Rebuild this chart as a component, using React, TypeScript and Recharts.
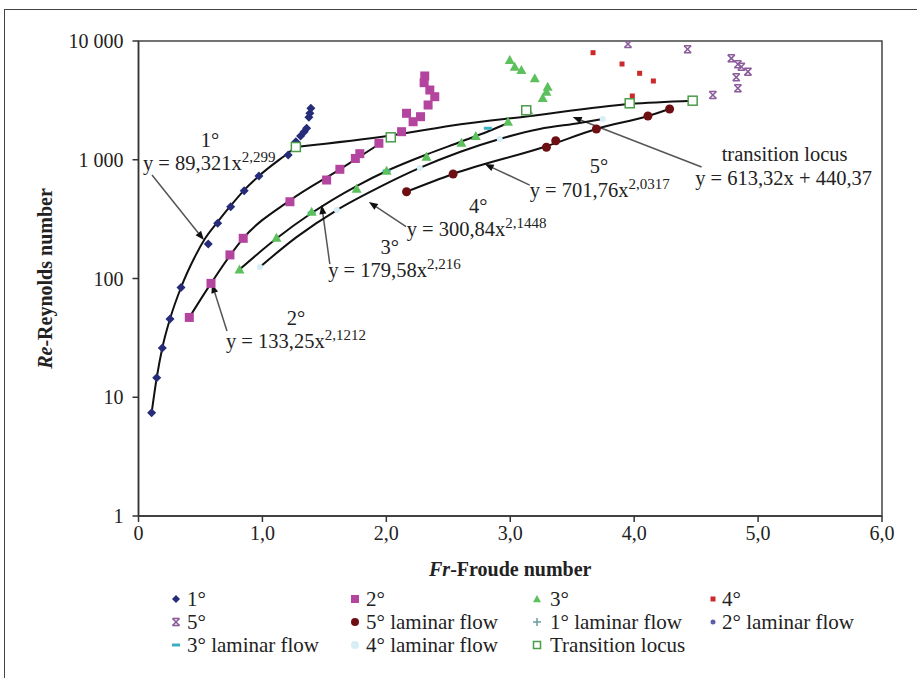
import React from 'react';
import {
  ScatterChart,
  Scatter,
  XAxis,
  YAxis,
  ReferenceLine,
  ReferenceDot,
  ReferenceArea,
} from 'recharts';

const FONT = '"Liberation Serif", "DejaVu Serif", serif';

// ---------- data (Fr, Re) ----------
const deg1: [number, number][] = [
  [0.106, 7.4], [0.147, 14.6], [0.192, 26], [0.254, 45.6], [0.343, 84],
  [0.563, 195], [0.639, 292], [0.744, 402], [0.853, 549], [0.972, 730],
  [1.208, 1096], [1.27, 1419], [1.308, 1585], [1.337, 1722], [1.357, 1840],
  [1.375, 2277], [1.383, 2461], [1.391, 2711],
];
const deg2: [number, number][] = [
  [0.41, 47], [0.585, 91], [0.738, 158], [0.845, 218], [1.222, 443],
  [1.518, 675], [1.625, 831], [1.75, 1025], [1.786, 1125], [1.94, 1376],
  [2.123, 1723], [2.163, 2462], [2.216, 2091], [2.276, 2305], [2.337, 2891],
  [2.391, 3396], [2.351, 3866], [2.305, 4457], [2.31, 5075],
];
const deg3: [number, number][] = [
  [0.815, 119], [1.113, 220], [1.397, 365], [1.76, 570], [2.002, 809],
  [2.324, 1061], [2.606, 1392], [2.722, 1585], [2.982, 2091], [3.144, 2625],
  [3.262, 3311], [3.292, 3743], [3.302, 4122], [3.198, 4853], [3.09, 5698],
  [3.036, 6075], [2.996, 6918],
];
const deg4: [number, number][] = [
  [3.668, 7972], [3.902, 6402], [4.044, 5346], [4.155, 4605], [3.985, 3443],
];
const deg5: [number, number][] = [
  [3.95, 9435], [4.431, 8514], [4.784, 7148], [4.837, 6364], [4.865, 6075],
  [4.918, 5516], [4.824, 4946], [4.837, 3996], [4.635, 3508],
];
// laminar-flow markers
const lam1: [number, number][] = [
  [0.106, 7.4], [0.147, 14.6], [0.192, 26], [0.254, 45.6], [0.343, 84],
];
const lam2: [number, number][] = [
  [0.41, 47], [0.585, 91], [0.845, 218], [1.222, 455], [1.625, 831], [1.94, 1350],
];
const lam3: [number, number][] = [
  [1.397, 356], [2.002, 804], [2.819, 1841],
];
const lam4: [number, number][] = [
  [0.98, 125], [1.601, 377], [2.27, 853], [2.915, 1496], [3.746, 2204],
];
const lam5: [number, number][] = [
  [2.163, 538], [2.539, 759], [3.292, 1273], [3.367, 1447], [3.695, 1815],
  [4.111, 2335], [4.286, 2675],
];
const transition: [number, number][] = [
  [1.27, 1280], [2.036, 1545], [3.129, 2609], [3.964, 2988], [4.472, 3143],
];
// fitted curves
const fit1: [number, number][] = [
  [0.106, 7.4], [0.147, 14.6], [0.192, 26], [0.254, 45.6], [0.343, 84],
  [0.449, 148], [0.536, 216], [0.639, 300], [0.744, 410], [0.853, 555],
  [0.972, 730], [1.208, 1140], [1.27, 1280],
];
const fit2: [number, number][] = [
  [0.41, 47], [0.585, 91], [0.845, 218], [1.222, 455], [1.625, 831], [1.94, 1350],
];
const fit3: [number, number][] = [
  [0.815, 119], [1.113, 217], [1.397, 356], [1.76, 601], [2.002, 804],
  [2.324, 1107], [2.606, 1424], [2.819, 1729], [2.982, 2040],
];
const fit4: [number, number][] = [
  [0.98, 125], [1.278, 224], [1.601, 377], [1.948, 590], [2.27, 853],
  [2.593, 1162], [2.915, 1496], [3.238, 1815], [3.56, 2040], [3.746, 2204],
];
const fit5: [number, number][] = [
  [2.163, 538], [2.539, 759], [3.292, 1300], [3.695, 1815], [4.111, 2335], [4.286, 2675],
];
const fitT: [number, number][] = [
  [1.27, 1280], [2.036, 1600], [2.6, 1988], [3.129, 2317], [3.964, 2950], [4.472, 3143],
];

const xTicks = [0, 1, 2, 3, 4, 5, 6];
const yTicks = [1, 10, 100, 1000, 10000];
const yTickLabels: Record<number, string> = { 1: '1', 10: '10', 100: '100', 1000: '1 000', 10000: '10 000' };

// annotation texts (data coordinates)
const annoTexts = [
  { fr: 0.577, re: 1280, t: '1°', sup: '', anchor: 'middle' },
  { fr: 0.036, re: 820, t: 'y = 89,321x', sup: '2,299', anchor: 'start' },
  { fr: 1.27, re: 40.5, t: '2°', sup: '', anchor: 'middle' },
  { fr: 0.706, re: 26.0, t: 'y = 133,25x', sup: '2,1212', anchor: 'start' },
  { fr: 2.028, re: 160, t: '3°', sup: '', anchor: 'middle' },
  { fr: 1.531, re: 103, t: 'y = 179,58x', sup: '2,216', anchor: 'start' },
  { fr: 2.741, re: 356, t: '4°', sup: '', anchor: 'middle' },
  { fr: 2.164, re: 228, t: 'y = 300,84x', sup: '2,1448', anchor: 'start' },
  { fr: 3.716, re: 773, t: '5°', sup: '', anchor: 'middle' },
  { fr: 3.157, re: 485, t: 'y = 701,76x', sup: '2,0317', anchor: 'start' },
  { fr: 5.214, re: 985, t: 'transition locus', sup: '', anchor: 'middle' },
  { fr: 5.206, re: 612, t: 'y = 613,32x + 440,37', sup: '', anchor: 'middle' },
];
const arrows: { from: [number, number]; to: [number, number] }[] = [
  { from: [0.109, 745], to: [0.528, 211] },
  { from: [0.714, 36.1], to: [0.593, 89.9] },
  { from: [1.544, 132], to: [1.478, 416] },
  { from: [2.159, 273], to: [1.859, 441] },
  { from: [3.157, 612], to: [2.794, 921] },
  { from: [4.544, 869], to: [3.504, 2291] },
];

const pts = (a: [number, number][]) => a.map(([x, y]) => ({ x, y }));

// ---------- colours ----------
const C = {
  d1: '#262c78',
  d2: '#b4459f',
  d3: '#5cc05c',
  d4: '#cc2a2a',
  d5: '#8a5c9c',
  l5: '#6e0f14',
  l1: '#6a9ca0',
  l2: '#5c5ea8',
  l3: '#3bb0c0',
  l4: '#d6eef6',
  tr: '#4a9c4a',
};

// ---------- marker shapes ----------
const Diamond = ({ cx, cy, fill, s = 4.5 }: any) => (
  <path d={`M${cx},${cy - s}L${cx + s},${cy}L${cx},${cy + s}L${cx - s},${cy}Z`} fill={fill} />
);
const Square = ({ cx, cy, fill, s = 4.5, stroke, hollow }: any) => (
  <rect x={cx - s} y={cy - s} width={2 * s} height={2 * s}
    fill={hollow ? '#fff' : fill} stroke={stroke || 'none'} strokeWidth={hollow ? 1.5 : 0} />
);
const Triangle = ({ cx, cy, fill, s = 5 }: any) => (
  <path d={`M${cx},${cy - s}L${cx + s},${cy + s * 0.8}L${cx - s},${cy + s * 0.8}Z`} fill={fill} />
);
const XMark = ({ cx, cy, fill, s = 3.5 }: any) => (
  <g stroke={fill} strokeWidth={1.6}>
    <line x1={cx - s} y1={cy - s} x2={cx + s} y2={cy + s} />
    <line x1={cx + s} y1={cy - s} x2={cx - s} y2={cy + s} />
    <line x1={cx - s} y1={cy - s} x2={cx + s} y2={cy - s} />
    <line x1={cx - s} y1={cy + s} x2={cx + s} y2={cy + s} />
  </g>
);
const Circle = ({ cx, cy, fill, r = 4.5 }: any) => <circle cx={cx} cy={cy} r={r} fill={fill} />;
const Plus = ({ cx, cy, fill, s = 3.5 }: any) => (
  <g stroke={fill} strokeWidth={1.5}>
    <line x1={cx - s} y1={cy} x2={cx + s} y2={cy} />
    <line x1={cx} y1={cy - s} x2={cx} y2={cy + s} />
  </g>
);
const Dash = ({ cx, cy, fill }: any) => <rect x={cx - 4} y={cy - 1.5} width={8} height={3} fill={fill} />;
const NoMark = () => <g />;

const legendItems: { label: string; marker: (cx: number, cy: number) => React.ReactNode }[] = [
  { label: '1°', marker: (cx, cy) => <Diamond cx={cx} cy={cy} fill={C.d1} s={4} /> },
  { label: '2°', marker: (cx, cy) => <Square cx={cx} cy={cy} fill={C.d2} s={4} /> },
  { label: '3°', marker: (cx, cy) => <Triangle cx={cx} cy={cy} fill={C.d3} s={4} /> },
  { label: '4°', marker: (cx, cy) => <Square cx={cx} cy={cy} fill={C.d4} s={2.5} /> },
  { label: '5°', marker: (cx, cy) => <XMark cx={cx} cy={cy} fill={C.d5} s={3.5} /> },
  { label: '5° laminar flow', marker: (cx, cy) => <Circle cx={cx} cy={cy} fill={C.l5} r={4} /> },
  { label: '1° laminar flow', marker: (cx, cy) => <Plus cx={cx} cy={cy} fill={C.l1} s={4} /> },
  { label: '2° laminar flow', marker: (cx, cy) => <Circle cx={cx} cy={cy} fill={C.l2} r={2.5} /> },
  { label: '3° laminar flow', marker: (cx, cy) => <Dash cx={cx} cy={cy} fill={C.l3} /> },
  { label: '4° laminar flow', marker: (cx, cy) => <Circle cx={cx} cy={cy} fill={C.l4} r={4} /> },
  { label: 'Transition locus', marker: (cx, cy) => <Square cx={cx} cy={cy} s={3.5} hollow stroke={C.tr} /> },
];
const legendColX = [176, 355, 537, 713];
const legendTextX = [187, 366, 550, 722];
const legendRowY = [599, 622, 645];

const Arrow = (p: any) => {
  const { x1, y1, x2, y2 } = p;
  const ang = Math.atan2(y2 - y1, x2 - x1);
  const L = 9, W = 3.5;
  const bx = x2 - L * Math.cos(ang), by = y2 - L * Math.sin(ang);
  const px = -Math.sin(ang) * W, py = Math.cos(ang) * W;
  return (
    <g>
      <line x1={x1} y1={y1} x2={bx} y2={by} stroke="#555" strokeWidth={1.5} />
      <path d={`M${x2},${y2}L${bx + px},${by + py}L${bx - px},${by - py}Z`} fill="#111" />
    </g>
  );
};

const XTitle = (props: any) => {
  const vb = props.viewBox;
  return (
    <text x={vb.x + vb.width / 2} y={vb.y + 60} textAnchor="middle" fontFamily={FONT}
      fontSize={20} fontWeight="bold" fill="#222">
      <tspan fontStyle="italic">Fr</tspan>-Froude number
    </text>
  );
};
const YTitle = (props: any) => {
  const vb = props.viewBox;
  const x = 52;
  const y = vb.y + vb.height / 2;
  return (
    <text x={x} y={y} transform={`rotate(-90, ${x}, ${y})`} textAnchor="middle" fontFamily={FONT}
      fontSize={20} fontWeight="bold" fill="#222">
      <tspan fontStyle="italic">Re</tspan>-Reynolds number
    </text>
  );
};

export default function App() {
  const mk = (Comp: any, extra: any) => (p: any) => <Comp cx={p.cx} cy={p.cy} {...extra} />;
  const lineStyle = { stroke: '#111', strokeWidth: 2 };
  const fits = [fit4, fit3, fit2, fit1, fit5, fitT];
  return (
    <div style={{ position: 'absolute', left: 0, top: 0, width: 917, height: 678, overflow: 'hidden', background: '#fff' }}>
      <div style={{ position: 'absolute', left: 4, top: 9, width: 1000, height: 1000, borderLeft: '1px solid #444', borderTop: '1px solid #444' }} />
      <div style={{ position: 'absolute', left: 0, top: 0 }}>
        <ScatterChart width={917} height={678} margin={{ top: 41, right: 35, bottom: 92, left: 38.5 }}>
          <XAxis type="number" dataKey="x" domain={[0, 6]} ticks={xTicks} allowDataOverflow
            tickFormatter={(v: number) => (v === 0 ? '0' : v.toFixed(1).replace('.', ','))}
            height={70} tickSize={6} tickMargin={4}
            axisLine={{ stroke: '#333', strokeWidth: 1.5 }} tickLine={{ stroke: '#333', strokeWidth: 1.5 }}
            tick={{ fontFamily: FONT, fontSize: 20, fill: '#222' }}
            label={XTitle} />
          <YAxis type="number" dataKey="y" scale="log" domain={[1, 10000]} ticks={yTicks} allowDataOverflow
            tickFormatter={(v: number) => yTickLabels[v] ?? String(v)}
            width={100} tickSize={6} tickMargin={9}
            axisLine={{ stroke: '#333', strokeWidth: 1.5 }} tickLine={{ stroke: '#333', strokeWidth: 1.5 }}
            tick={{ fontFamily: FONT, fontSize: 20, fill: '#222' }}
            label={YTitle} />
          <ReferenceArea x1={0} x2={6} y1={1} y2={10000} fill="none" stroke="#444" strokeWidth={1.5} ifOverflow="visible" />

          {arrows.map((a, i) => (
            <ReferenceLine key={'a' + i} segment={[{ x: a.from[0], y: a.from[1] }, { x: a.to[0], y: a.to[1] }]}
              shape={Arrow} ifOverflow="visible" />
          ))}

          {fits.map((f, i) => (
            <Scatter key={'f' + i} data={pts(f)} line={lineStyle} lineJointType="monotoneX"
              shape={NoMark} isAnimationActive={false} />
          ))}

          <Scatter name="4° laminar flow" data={pts(lam4)} shape={mk(Circle, { fill: C.l4, r: 3 })} isAnimationActive={false} />
          <Scatter name="3° laminar flow" data={pts(lam3)} shape={mk(Dash, { fill: C.l3 })} isAnimationActive={false} />
          <Scatter name="2° laminar flow" data={pts(lam2)} shape={mk(Circle, { fill: C.l2, r: 2 })} isAnimationActive={false} />
          <Scatter name="1° laminar flow" data={pts(lam1)} shape={mk(Plus, { fill: C.l1 })} isAnimationActive={false} />
          <Scatter name="5° laminar flow" data={pts(lam5)} shape={mk(Circle, { fill: C.l5, r: 4.5 })} isAnimationActive={false} />

          <Scatter name="1°" data={pts(deg1)} shape={mk(Diamond, { fill: C.d1 })} isAnimationActive={false} />
          <Scatter name="2°" data={pts(deg2)} shape={mk(Square, { fill: C.d2 })} isAnimationActive={false} />
          <Scatter name="3°" data={pts(deg3)} shape={mk(Triangle, { fill: C.d3 })} isAnimationActive={false} />
          <Scatter name="4°" data={pts(deg4)} shape={mk(Square, { fill: C.d4, s: 2.5 })} isAnimationActive={false} />
          <Scatter name="5°" data={pts(deg5)} shape={mk(XMark, { fill: C.d5 })} isAnimationActive={false} />
          <Scatter name="Transition locus" data={pts(transition)}
            shape={mk(Square, { s: 4.5, hollow: true, stroke: C.tr })} isAnimationActive={false} />

          {annoTexts.map((a, i) => (
            <ReferenceDot key={'t' + i} x={a.fr} y={a.re} r={0} ifOverflow="visible"
              shape={(p: any) => (
                <text x={p.cx} y={p.cy} textAnchor={a.anchor as any} fontFamily={FONT} fontSize={20.5} fill="#222">
                  {a.t}
                  {a.sup ? <tspan dy={-8} fontSize={15}>{a.sup}</tspan> : null}
                </text>
              )} />
          ))}
        </ScatterChart>
      </div>
      <svg style={{ position: 'absolute', left: 0, top: 0 }} width={917} height={678} pointerEvents="none">
        {legendItems.map((it, i) => {
          const col = i % 4;
          const row = Math.floor(i / 4);
          const cy = legendRowY[row];
          return (
            <g key={it.label}>
              {it.marker(legendColX[col], cy)}
              <text x={legendTextX[col]} y={cy + 7} fontFamily={FONT} fontSize={21} fill="#222">{it.label}</text>
            </g>
          );
        })}
      </svg>
    </div>
  );
}
